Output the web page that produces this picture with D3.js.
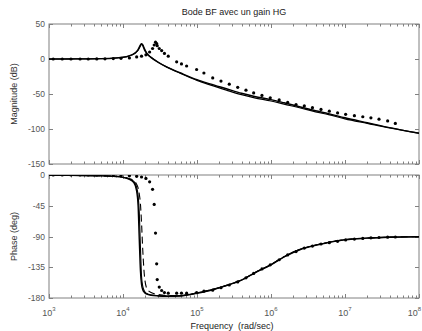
<!DOCTYPE html>
<html><head><meta charset="utf-8">
<script src="https://cdn.jsdelivr.net/npm/d3@7"></script>
<style>body{margin:0;background:#fff}svg{display:block;font-family:"Liberation Sans",Arial,sans-serif}</style>
</head><body><svg id="c" width="422" height="331"></svg>
<script>
// ---- data ----
const title = "Bode BF avec un gain HG";
const xLabel = "Frequency  (rad/sec)";
const magLabel = "Magnitude (dB)";
const phaseLabel = "Phase (deg)";
const xDecades = [1e3, 1e4, 1e5, 1e6, 1e7, 1e8];
const xExponents = ["3", "4", "5", "6", "7", "8"];
const magTicks = [50, 0, -50, -100, -150];
const phaseTicks = [0, -45, -90, -135, -180];

const freqLine = [1e3, 2e3, 5e3, 8e3, 1e4, 1.2e4, 1.4e4, 1.52e4, 1.6e4, 1.66e4, 1.72e4, 1.78e4, 1.85e4, 1.95e4, 2.1e4, 2.4e4, 3e4, 4e4, 6e4, 1e5, 1.5e5, 2.5e5, 4e5, 6e5, 1e6, 1.5e6, 2.5e6, 4e6, 6e6, 1e7, 2e7, 4e7, 1e8];
const magA   = [0, 0.1, 0.5, 1.5, 2.6, 4.5, 7.5, 10.5, 13.5, 17, 20, 22, 19, 13, 7.5, 2, -5, -12, -20, -29.5, -35.5, -42.5, -49, -53.5, -58, -62.5, -68.5, -74, -78, -84, -91, -98, -106];
const magB   = [0, 0.1, 0.5, 1.4, 2.4, 4.2, 7, 10, 12.5, 15.5, 18.5, 21.5, 20.5, 15, 8.5, 2.5, -4.5, -12, -20.5, -30.5, -37, -44.5, -51, -55.5, -60, -64.5, -70, -75.5, -79.5, -85.5, -92, -98.5, -106];
const phaseA = [-0.3, -0.6, -1.2, -2.2, -3.5, -6, -11, -22, -45, -95, -140, -160, -168, -172, -174.5, -176, -177, -177.5, -177, -173, -169, -162, -154, -143.5, -131.5, -120, -109, -103, -99, -95, -92.4, -91, -90.3];
const phaseB = [-0.3, -0.6, -1.1, -2, -3.2, -5.5, -9.5, -17, -30, -55, -105, -148, -163, -170, -173.5, -175.5, -176.5, -177, -176.5, -172.5, -168.5, -161.5, -153.5, -143, -131, -119.5, -108.5, -102.5, -98.5, -94.5, -92.2, -90.9, -90.3];
const phaseC = [-0.3, -0.6, -1.1, -1.9, -3, -5, -8.5, -13, -19, -28, -42, -70, -110, -148, -166, -172, -175, -176.5, -176.5, -172.5, -168.5, -161.5, -153.5, -143, -131, -119.5, -108.5, -102.5, -98.5, -94.5, -92.2, -90.9, -90.3];

const freqDots = [1140, 1510, 1980, 2630, 3390, 4420, 5710, 7400, 9400, 12200, 15300, 17800, 20400, 22900, 25100, 26400, 27500, 28500, 29000, 30900, 33300, 36300, 40900, 53100, 61700, 72400, 98800, 124000, 163000, 211000, 273000, 355000, 459000, 583000, 755000, 977000, 1290000, 1680000, 2180000, 2820000, 3630000, 4740000, 6140000, 7940000, 10200000, 13400000, 17400000, 22400000, 28800000, 37700000, 47900000];
const magDots = [0, 0, 0, 0, 0, 0.1, 0.3, 0.6, 1, 1.6, 3, 4, 6, 10, 15, 20, 24, 22, 19, 15, 12, 8, 4, -4, -7, -10, -15, -20, -27, -31.5, -36, -40.5, -44.5, -48.5, -52, -55.5, -58.5, -62, -65, -67, -69.5, -72, -74.5, -77, -79, -81, -82.5, -84, -86, -88.5, -92];
const phaseDots = [0, 0, 0, 0, 0, 0, 0, -0.5, -0.8, -1.2, -2, -2.9, -5, -10, -21, -43, -85, -130, -153, -164, -169, -172, -173, -173, -173, -173, -172, -170, -168.5, -165, -161, -156.5, -150.5, -144, -137.5, -131.5, -124, -117, -112, -107, -104, -101, -99, -97, -95, -93.8, -92.8, -92, -91.5, -91, -90.7];

// ---- layout ----
const svg = d3.select("#c");
const L = 49, R = 419;
const magTop = 24, magBot = 164, phTop = 175, phBot = 298;
const axisCol = "#808080", txtCol = "#555";

const x = d3.scaleLog().domain([1e3, 1e8]).range([L, R]);
const yMag = d3.scaleLinear().domain([-150, 50]).range([magBot, magTop]);
const yPh = d3.scaleLinear().domain([-180, 0]).range([phBot, phTop]);

const defs = svg.append("defs");
defs.append("clipPath").attr("id", "cm").append("rect").attr("x", L).attr("y", magTop).attr("width", R - L).attr("height", magBot - magTop);
defs.append("clipPath").attr("id", "cp").append("rect").attr("x", L).attr("y", phTop).attr("width", R - L).attr("height", phBot - phTop);

svg.append("text").attr("x", (L + R) / 2).attr("y", 15).attr("text-anchor", "middle")
  .attr("font-size", 9).attr("fill", "#222").text(title);

const minorVals = [];
for (let i = 0; i < xDecades.length - 1; i++) for (let k = 2; k <= 9; k++) minorVals.push(xDecades[i] * k);

function panel(y, top, bot, ticks, clipId, series, dots) {
  const g = svg.append("g");
  g.append("rect").attr("x", L).attr("y", top).attr("width", R - L).attr("height", bot - top)
    .attr("fill", "none").attr("stroke", axisCol).attr("stroke-width", 1);
  xDecades.forEach(v => {
    const px = Math.round(x(v)) + 0.5;
    g.append("line").attr("x1", px).attr("x2", px).attr("y1", bot).attr("y2", bot - 4).attr("stroke", axisCol);
    g.append("line").attr("x1", px).attr("x2", px).attr("y1", top).attr("y2", top + 4).attr("stroke", axisCol);
  });
  minorVals.forEach(v => {
    const px = Math.round(x(v)) + 0.5;
    g.append("line").attr("x1", px).attr("x2", px).attr("y1", bot).attr("y2", bot - 2.5).attr("stroke", axisCol);
    g.append("line").attr("x1", px).attr("x2", px).attr("y1", top).attr("y2", top + 2.5).attr("stroke", axisCol);
  });
  ticks.forEach(v => {
    const py = Math.round(y(v)) + 0.5;
    g.append("line").attr("x1", L).attr("x2", L + 4).attr("y1", py).attr("y2", py).attr("stroke", axisCol);
    g.append("line").attr("x1", R).attr("x2", R - 4).attr("y1", py).attr("y2", py).attr("stroke", axisCol);
    g.append("text").attr("x", L - 4).attr("y", y(v) + 3).attr("text-anchor", "end")
      .attr("font-size", 8.5).attr("fill", txtCol).text(v);
  });
  const cg = g.append("g").attr("clip-path", `url(#${clipId})`);
  series.forEach(s => {
    const line = d3.line().x((d, i) => x(freqLine[i])).y(d => y(d)).curve(d3.curveMonotoneX);
    cg.append("path").attr("d", line(s.vals)).attr("fill", "none").attr("stroke", "#000")
      .attr("stroke-width", s.w).attr("stroke-dasharray", s.dash || null);
  });
  cg.selectAll("circle.d").data(dots).enter().append("circle")
    .attr("cx", (d, i) => x(freqDots[i])).attr("cy", d => y(d)).attr("r", 1.6).attr("fill", "#000");
}

panel(yMag, magTop, magBot, magTicks, "cm",
  [{vals: magA, w: 1.4}, {vals: magB, w: 1.2}], magDots);
panel(yPh, phTop, phBot, phaseTicks, "cp",
  [{vals: phaseA, w: 1.4}, {vals: phaseB, w: 1.1}, {vals: phaseC, w: 1.1, dash: "7,4"}], phaseDots);

// x tick labels with exponents (last one kept inside the window)
xDecades.forEach((v, i) => {
  const last = i === xDecades.length - 1;
  const t = svg.append("text").attr("x", last ? 421 : x(v)).attr("y", 316)
    .attr("text-anchor", last ? "end" : "middle").attr("font-size", 9).attr("fill", txtCol);
  t.append("tspan").text("10");
  t.append("tspan").attr("dy", -5).attr("font-size", 6).text(xExponents[i]);
});

svg.append("text").attr("x", (L + R) / 2 - 2).attr("y", 329).attr("text-anchor", "middle")
  .attr("font-size", 9).attr("fill", "#222").style("white-space", "pre").text(xLabel);

svg.append("text").attr("transform", `translate(17,${(magTop + magBot) / 2}) rotate(-90)`)
  .attr("text-anchor", "middle").attr("font-size", 9).attr("fill", "#333").text(magLabel);
svg.append("text").attr("transform", `translate(17,${(phTop + phBot) / 2}) rotate(-90)`)
  .attr("text-anchor", "middle").attr("font-size", 9).attr("fill", "#333").text(phaseLabel);
</script></body></html>
